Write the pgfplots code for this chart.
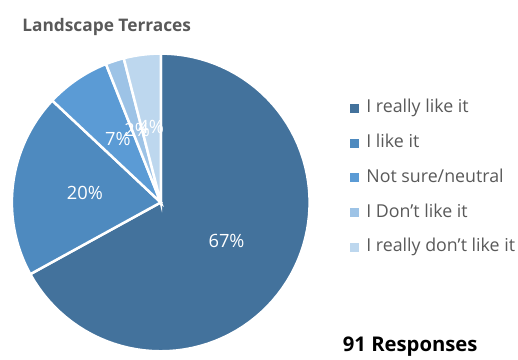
\documentclass[border=0pt]{standalone}
\usepackage{pgfplots}
\pgfplotsset{compat=1.18}
\usepackage{fontspec}
\setmainfont{Open Sans}
\definecolor{cA}{HTML}{43729C}
\definecolor{cB}{HTML}{4E8ABF}
\definecolor{cC}{HTML}{5B9BD5}
\definecolor{cD}{HTML}{9DC3E6}
\definecolor{cE}{HTML}{BDD7EE}
\definecolor{txtgray}{HTML}{595959}
% percentages of the 91 responses
\def\vA{67}\def\vB{20}\def\vC{7}\def\vD{2}\def\vE{4}
\pgfmathsetmacro\aO{90}
\pgfmathsetmacro\aA{90-3.6*\vA}
\pgfmathsetmacro\aB{\aA-3.6*\vB}
\pgfmathsetmacro\aC{\aB-3.6*\vC}
\pgfmathsetmacro\aD{\aC-3.6*\vD}
\pgfmathsetmacro\aE{\aD-3.6*\vE}
\newcommand\slice[5]{%
  \addplot[fill=#3, draw=white, line width=2.5bp, domain=#1:#2, samples=80,
    legend image code/.code={\fill[#3] (0bp,-3bp) rectangle (6.5bp,3.5bp); \path (13.5bp,0bp);}]
    ({162+150*cos(x)},{154+150*sin(x)}) -- (axis cs:162,154) -- cycle;
  \addlegendentry{#5}
}
\begin{document}
\begin{tikzpicture}
\begin{axis}[hide axis, scale only axis, width=518bp, height=358bp,
  xmin=0, xmax=518, ymin=0, ymax=358, clip=false,
  legend cell align=left,
  legend style={draw=none, fill=none, at={(axis cs:350,259)}, anchor=north west,
    font=\fontsize{18}{21}\selectfont, text=txtgray,
    nodes={inner sep=0pt, text height=12.5bp, text depth=4bp},
    row sep=18.5bp},
]
\path (axis cs:0,0) rectangle (axis cs:518,358);
\slice{\aO}{\aA}{cA}{\vA}{I really like it}
\slice{\aA}{\aB}{cB}{\vB}{I like it}
\slice{\aB}{\aC}{cC}{\vC}{Not sure/neutral}
\slice{\aC}{\aD}{cD}{\vD}{I Don{\char"0027}t like it}
\slice{\aD}{\aE}{cE}{\vE}{I really don{\char"0027}t like it}
\foreach \s/\e/\v in {\aO/\aA/\vA,\aA/\aB/\vB,\aB/\aC/\vC,\aC/\aD/\vD,\aD/\aE/\vE}{
  \edef\temp{\noexpand\node[text=white, inner sep=0pt, font=\noexpand\fontsize{18.5}{21}\noexpand\selectfont]
    at (axis cs:{162+77*cos((\s+\e)/2)},{154+77*sin((\s+\e)/2)}) {\v\noexpand\%};}
  \temp
}
\node[anchor=base west, text=txtgray, font=\fontsize{17.5}{20}\selectfont\bfseries]
  at (axis cs:19,326) {Landscape Terraces};
\node[anchor=base west, text=black, font=\fontsize{20.5}{23}\selectfont\bfseries]
  at (axis cs:342,4) {91 Responses};
\end{axis}
\end{tikzpicture}
\end{document}
